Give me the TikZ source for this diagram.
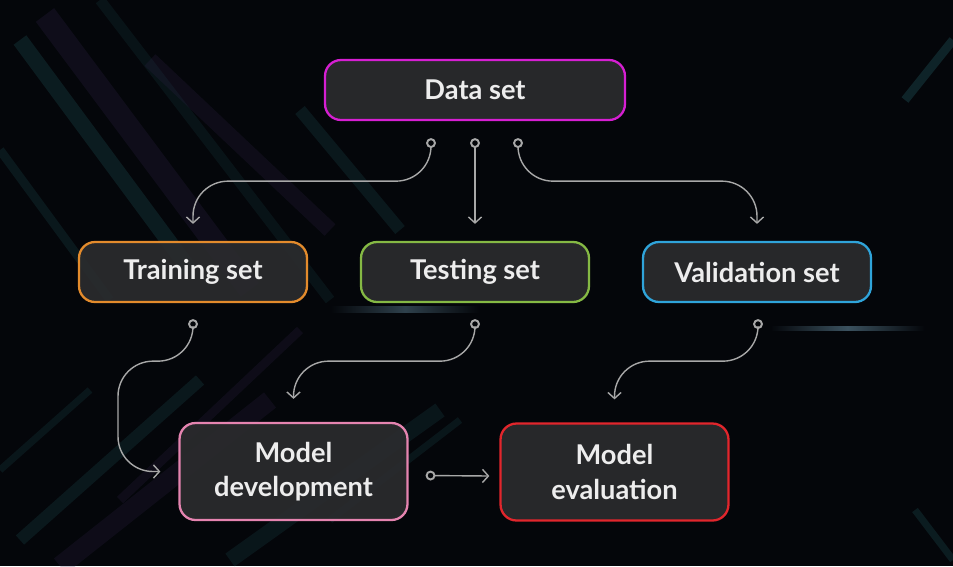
\documentclass[tikz,border=0pt]{standalone}
\usepackage{fontspec}
\setmainfont{Lato}
\usetikzlibrary{arrows.meta,calc}

\definecolor{bgcol}{HTML}{04060A}
\definecolor{boxfill}{HTML}{2B2C2E}
\definecolor{linkcol}{HTML}{A8A8A8}
\definecolor{datacol}{HTML}{D61FD2}
\definecolor{traincol}{HTML}{E38B2C}
\definecolor{testcol}{HTML}{85B944}
\definecolor{validcol}{HTML}{2FA4DA}
\definecolor{devcol}{HTML}{E584B0}
\definecolor{evalcol}{HTML}{E1262C}
\definecolor{streakteal}{HTML}{1E5055}
\definecolor{streakpurple}{HTML}{33244D}
\definecolor{glowcol}{HTML}{7FAFC8}

\tikzset{
  box/.style={draw=#1, line width=1.3pt, rounded corners=0.32cm, fill=boxfill,
    fill opacity=0.9, text opacity=1, text=white!93!black,
    font=\bfseries\fontsize{15.5}{19.5}\selectfont, align=center,
    minimum width=4.56cm, minimum height=1.2cm, inner sep=0pt},
  link/.style={draw=linkcol, line width=0.8pt, rounded corners=0.7cm,
    {Circle[open,length=5.6pt,width=5.6pt,line width=1.1pt]}-{Straight Barb[length=3.4pt,width=7.5pt]}},
  streak/.style={line width=#1, line cap=butt},
  glow/.style={shading=axis, left color=bgcol, right color=bgcol, middle color=glowcol},
}

\begin{document}
\begin{tikzpicture}[x=0.02cm,y=-0.02cm]
  \fill[bgcol] (0,0) rectangle (953,566);
  \useasboundingbox (0,0) rectangle (953,566);

  \foreach \xa/\ya/\xb/\yb/\w/\c/\o in {
      20/40/190/270/9pt/streakteal/.3, 45/15/250/290/13pt/streakpurple/.25,
      0/150/110/300/5pt/streakteal/.25, 100/0/330/300/6pt/streakteal/.18,
      150/60/330/230/9pt/streakpurple/.22, 300/110/400/230/7pt/streakteal/.25,
      20/540/200/380/7pt/streakteal/.25, 60/566/270/400/11pt/streakpurple/.22,
      230/560/440/410/9pt/streakteal/.22, 120/500/300/330/5pt/streakpurple/.22,
      0/470/90/390/4pt/streakteal/.22, 330/520/460/420/4pt/streakteal/.22,
      905/100/953/40/5pt/streakteal/.4, 915/510/953/560/4pt/streakteal/.3}
    \draw[streak=\w, draw=\c, draw opacity=\o] (\xa,\ya) -- (\xb,\yb);
  \shade[glow, opacity=.45] (770,326) rectangle (925,330);
  \shade[glow, opacity=.35] (330,306) rectangle (480,312);

  \node[box=datacol, minimum width=6cm] (data) at (475,90) {Data set};
  \node[box=traincol] (train) at (193,272) {Training set};
  \node[box=testcol] (test) at (475,272) {Testing set};
  \node[box=validcol] (valid) at (757,272) {Validation set};
  \node[box=devcol, minimum height=1.94cm] (dev) at (293.5,471.5) {Model\\development};
  \node[box=evalcol, minimum height=1.94cm] (eval) at (614.5,472) {Model\\evaluation};

  \coordinate (d1) at ($(data.south)+(-44,17)$);
  \coordinate (d2) at ($(data.south)+(0,17)$);
  \coordinate (d3) at ($(data.south)+(43,17)$);
  \coordinate (train-in) at ($(train.north)+(0,-17)$);
  \coordinate (test-in) at ($(test.north)+(0,-17)$);
  \coordinate (valid-in) at ($(valid.north)+(0,-17)$);
  \coordinate (train-out) at ($(train.south)+(0,16)$);
  \coordinate (test-out) at ($(test.south)+(0,16)$);
  \coordinate (valid-out) at ($(valid.south)+(1,16)$);
  \coordinate (dev-in) at ($(dev.west)+(-18,0)$);
  \coordinate (dev-top) at ($(dev.north)+(0,-23)$);
  \coordinate (eval-top) at ($(eval.north)+(0,-23)$);
  \coordinate (dev-out) at ($(dev.east)+(17,4)$);
  \coordinate (eval-in) at ($(eval.west)+(-10,4)$);

  \draw[link] (d1) -- ++(0,43) -| (train-in);
  \draw[link] (d2) -- (test-in);
  \draw[link] (d3) -- ++(0,43) -| (valid-in);
  \draw[link] (train-out) -- ++(0,42) -- ++(-75,0) |- (dev-in);
  \draw[link] (test-out) -- ++(0,42) -| (dev-top);
  \draw[link] (valid-out) -- ++(0,42) -| (eval-top);
  \draw[link] (dev-out) -- (eval-in);
\end{tikzpicture}
\end{document}
